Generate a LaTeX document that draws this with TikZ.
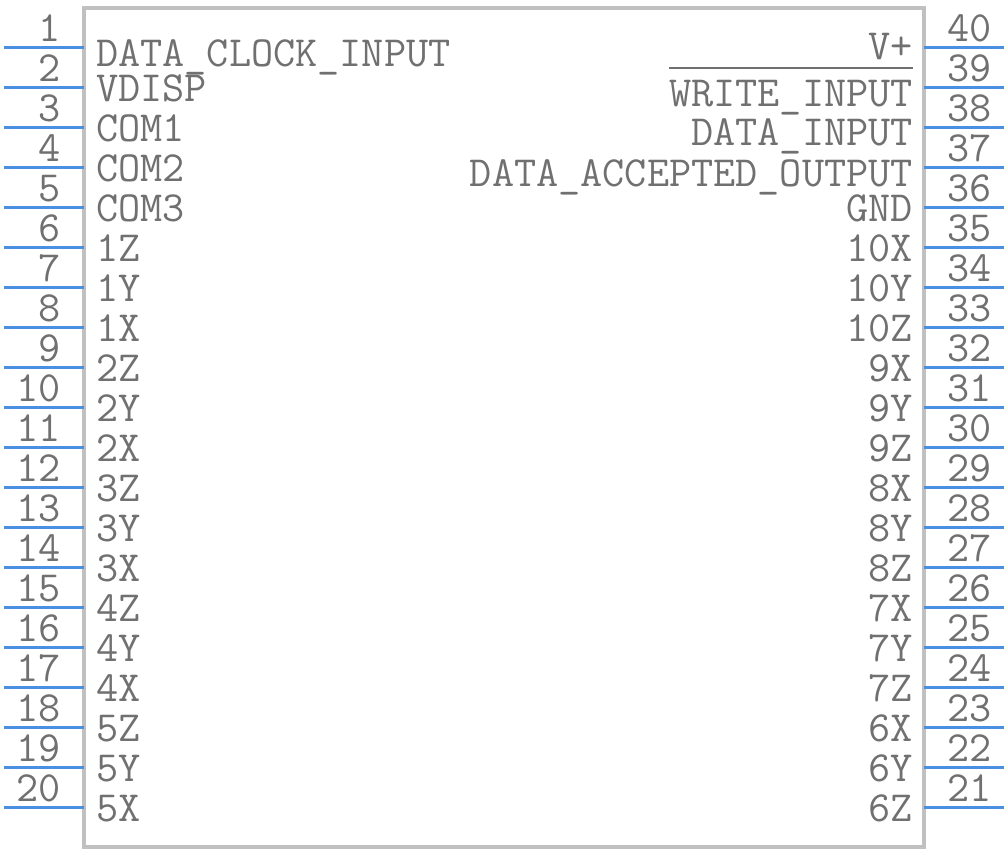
\documentclass[tikz,border=0pt]{standalone}
\usetikzlibrary{calc}
\definecolor{pinblue}{HTML}{4A90E2}
\definecolor{boxgray}{HTML}{C0C0C0}
\definecolor{txtgray}{HTML}{707070}
\tikzset{
	pinline/.style={pinblue, line width=3pt},
	pintext/.style={txtgray, inner sep=0pt, font=\ttfamily\fontsize{43}{46}\selectfont},
	barline/.style={txtgray, line width=2pt}
}
\newcommand{\lpin}[4] % pin number, pin y in px, label baseline y in px, label
{
	% pin stub
	\draw[pinline] (4,#2) -- (84,#2);
	% number above the stub
	\node[pintext, anchor=base east] (n#1) at (61,#2-6) {#1};
	% label inside the body
	\node[pintext, anchor=base west] (l#1) at (96,#3) {#4};
}
\newcommand{\rpin}[4] % pin number, pin y in px, label baseline y in px, label
{
	% pin stub
	\draw[pinline] (924,#2) -- (1004,#2);
	% number above the stub
	\node[pintext, anchor=base west] (n#1) at (947,#2-6) {#1};
	% label inside the body
	\node[pintext, anchor=base east] (l#1) at (913,#3) {#4};
}

\begin{document}
\begin{tikzpicture}[x=1pt, y=-1pt]
	\useasboundingbox (0,0) rectangle (1008,852);
	% body
	\draw[boxgray, line width=4pt] (84,8) rectangle (924,847);
	% left side
	\lpin{1}{47}{66}{DATA\_CLOCK\_INPUT};
	\lpin{2}{87}{101}{VDISP};
	\lpin{3}{127}{141}{COM1};
	\lpin{4}{167}{181}{COM2};
	\lpin{5}{207}{221}{COM3};
	\lpin{6}{247}{261}{1Z};
	\lpin{7}{287}{301}{1Y};
	\lpin{8}{327}{341}{1X};
	\lpin{9}{367}{381}{2Z};
	\lpin{10}{407}{421}{2Y};
	\lpin{11}{447}{461}{2X};
	\lpin{12}{487}{501}{3Z};
	\lpin{13}{527}{541}{3Y};
	\lpin{14}{567}{581}{3X};
	\lpin{15}{607}{621}{4Z};
	\lpin{16}{647}{661}{4Y};
	\lpin{17}{687}{701}{4X};
	\lpin{18}{727}{741}{5Z};
	\lpin{19}{767}{781}{5Y};
	\lpin{20}{807}{821}{5X};
	% right side
	\rpin{40}{47}{59}{V+};
	\rpin{39}{87}{106}{WRITE\_INPUT};
	\rpin{38}{127}{145}{DATA\_INPUT};
	\rpin{37}{167}{186}{DATA\_ACCEPTED\_OUTPUT};
	\rpin{36}{207}{221}{GND};
	\rpin{35}{247}{261}{10X};
	\rpin{34}{287}{301}{10Y};
	\rpin{33}{327}{341}{10Z};
	\rpin{32}{367}{381}{9X};
	\rpin{31}{407}{421}{9Y};
	\rpin{30}{447}{461}{9Z};
	\rpin{29}{487}{501}{8X};
	\rpin{28}{527}{541}{8Y};
	\rpin{27}{567}{581}{8Z};
	\rpin{26}{607}{621}{7X};
	\rpin{25}{647}{661}{7Y};
	\rpin{24}{687}{701}{7Z};
	\rpin{23}{727}{741}{6X};
	\rpin{22}{767}{781}{6Y};
	\rpin{21}{807}{821}{6Z};
	% active low bar
	\draw[barline] ([yshift=12pt]l39.north west) -- ([yshift=12pt]l39.north east);
\end{tikzpicture}
\end{document}
